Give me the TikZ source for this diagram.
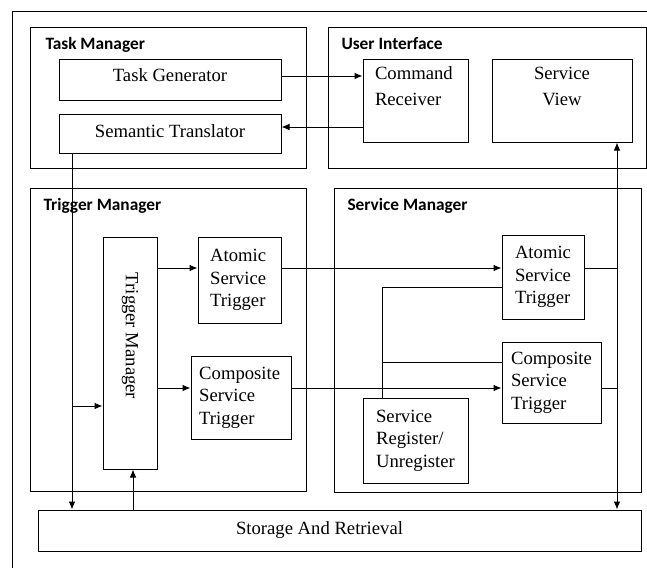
\documentclass[tikz,border=0pt]{standalone}
\usepackage{fontspec}
\setmainfont{Liberation Serif}
\newfontfamily\headfont{Carlito}
\usetikzlibrary{positioning,fit,calc,arrows.meta}
\newcommand*{\lblfont}{\fontsize{14pt}{17pt}\selectfont}
\newcommand*{\widefont}{\fontsize{14pt}{19.5pt}\selectfont}
\newcommand*{\hdfont}{\headfont\bfseries\fontsize{13pt}{15pt}\selectfont}
\tikzset{
  frame/.style={draw, inner sep=0pt},
  box/.style={draw, inner sep=0pt, font=\lblfont},
  lbl/.style={inner sep=0pt, font=\lblfont, align=left},
  title/.style={anchor=base west, inner sep=0pt, font=\hdfont},
  link/.style={-{Latex[length=6pt,width=5pt]}},
  dlink/.style={{Latex[length=6pt,width=5pt]}-{Latex[length=6pt,width=5pt]}}
}

\begin{document}
\begin{tikzpicture}[x=0.75pt,y=-0.75pt,line width=0.75pt]
\useasboundingbox (0,0) rectangle (647,568);
% outer frame, cut off at right and bottom
\draw (12,568) -- (12,11) -- (647,11);

% Task Manager
\node[frame, fit={(30,27) (306,168)}] (taskmgr) {};
\node[title] at (45,49) {Task Manager};
\node[box, fit={(59,59) (281,100)},
  label={[lbl, yshift=3pt]center:Task Generator}] (taskgen) {};
\node[box, fit={(59,114) (281,153)},
  label={[lbl, yshift=2pt]center:Semantic Translator}] (semtrans) {};

% User Interface
\node[frame, fit={(328,27) (646,168)}] (userif) {};
\node[title] at (341,49) {User Interface};
\node[box, fit={(363,59) (468,142)},
  label={[lbl, font=\widefont, anchor=north west, xshift=9pt, yshift=-6pt]north west:{Command\\Receiver}}] (cmdrecv) {};
\node[box, fit={(492,59) (632,142)},
  label={[lbl, font=\widefont, align=center, anchor=north, yshift=-6pt]north:{Service\\View}}] (servview) {};

% Trigger Manager
\node[frame, fit={(30,188) (306,491)}] (trigmgr) {};
\node[title] at (43,210) {Trigger Manager};
\node[box, fit={(103,237) (157,469)}] (tmv) {};
\node[lbl, rotate=-90] at ($(tmv.center)+(0,-17)$) {Trigger Manager};
\node[box, fit={(198,237) (281,323)},
  label={[lbl, xshift=-1pt]center:{Atomic\\Service\\Trigger}}] (atl) {};
\node[box, fit={(191,356) (291,439)},
  label={[lbl, xshift=-1pt]center:{Composite\\Service\\Trigger}}] (ctl) {};

% Service Manager
\node[frame, fit={(334,188) (641,492)}] (servmgr) {};
\node[title] at (347,210) {Service Manager};
\node[box, fit={(502,235) (584,319)},
  label={[lbl]center:{Atomic\\Service\\Trigger}}] (atr) {};
\node[box, fit={(502,342) (601,423)},
  label={[lbl]center:{Composite\\Service\\Trigger}}] (ctr) {};
\node[box, fit={(363,398) (468,483)},
  label={[lbl]center:{Service\\Register/\\Unregister}}] (reg) {};

% Storage
\node[box, fit={(38,510) (641,551)},
  label={[lbl, xshift=-15pt]center:Storage And Retrieval}] (storage) {};

% buses and rows
\coordinate (lbus) at (72,0);
\coordinate (rbus) at (617,0);
\coordinate (regbus) at (382,0);
\coordinate (tmup) at (133,0);
\coordinate (arow) at (0,268);
\coordinate (crow) at (0,388);
\coordinate (rega) at (0,287);
\coordinate (regc) at (0,362);
\coordinate (tmin) at (72,406);
\coordinate (cmd) at ($(taskgen.east)+(0,-3.5)$);
\coordinate (fb) at ($(semtrans.east)+(0,-6.5)$);

% connectors
\draw[link] (cmd) -- (cmd -| cmdrecv.west);
\draw[link] (fb -| cmdrecv.west) -- (fb);
\draw[link] (lbus |- semtrans.south) -- (lbus |- storage.north);
\draw[link] (tmin) -- (tmin -| tmv.west);
\draw[link] (tmup |- storage.north) -- (tmup |- tmv.south);
\draw[link] (tmv.east |- arow) -- (atl.west |- arow);
\draw[link] (tmv.east |- crow) -- (ctl.west |- crow);
\draw[link] (atl.east |- arow) -- (atr.west |- arow);
\draw[link] (ctl.east |- crow) -- (ctr.west |- crow);
\draw (atr.east |- arow) -- (rbus |- arow);
\draw (ctr.east |- crow) -- (rbus |- crow);
\draw (regbus |- reg.north) -- (regbus |- rega) -- (atr.west |- rega);
\draw (regbus |- regc) -- (ctr.west |- regc);
\draw[dlink] (rbus |- servview.south) -- (rbus |- storage.north);
\end{tikzpicture}
\end{document}
